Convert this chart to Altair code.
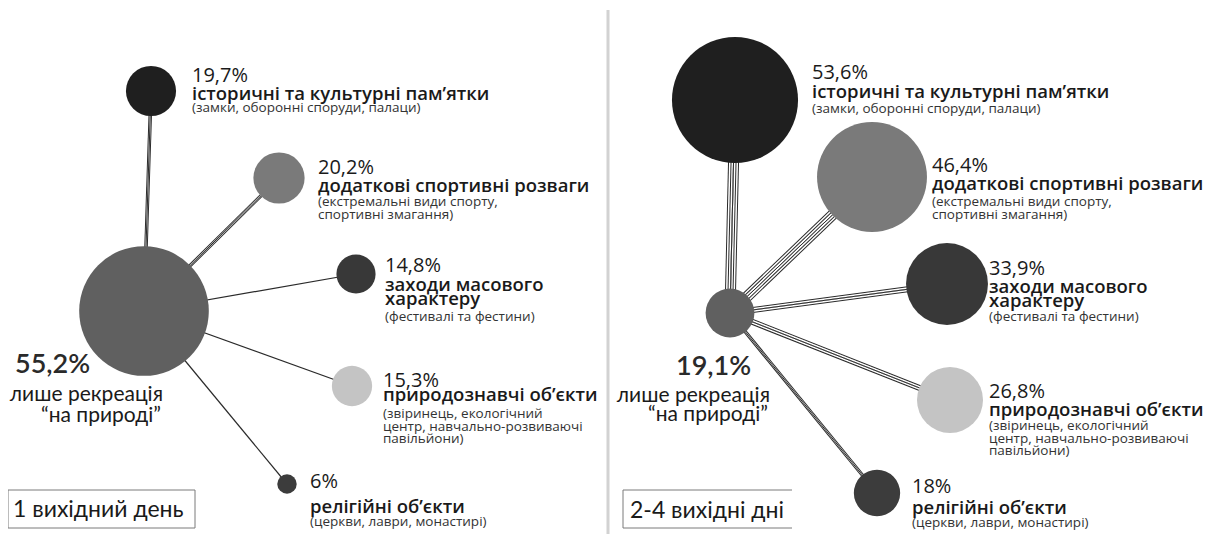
import altair as alt
import pandas as pd

# ---------------- data ----------------
panels = ["1 вихідний день", "2-4 вихідні дні"]
categories = [
    "історичні та культурні пам’ятки",
    "додаткові спортивні розваги",
    "заходи масового\nхарактеру",
    "природознавчі об’єкти",
    "релігійні об’єкти",
]
subtitles = [
    "(замки, оборонні споруди, палаци)",
    "(екстремальні види спорту,\nспортивні змагання)",
    "(фестивалі та фестини)",
    "(звіринець, екологічний\nцентр, навчально-розвиваючі\nпавільйони)",
    "(церкви, лаври, монастирі)",
]
values_1day = [19.7, 20.2, 14.8, 15.3, 6.0]
values_24days = [53.6, 46.4, 33.9, 26.8, 18.0]
center_values = [55.2, 19.1]
center_label_lines = ["лише рекреація", "“на природі”"]

# ---------------- layout (page pixels) ----------------
center_xy = [(144, 311), (730, 313)]
sat_xy = [
    [(151, 91), (279, 178), (356, 274), (352, 386), (287, 484)],
    [(735, 100), (872, 177), (947, 284), (950, 400), (877, 493)],
]
# text x, pct baseline, name baseline, subtitle baseline
sat_text = [
    [(192, 82, 100, 112), (318, 174, 192, 206), (385, 272, 291, 321),
     (383, 387, 401, 418), (310, 488, 513, 526)],
    [(812, 79, 98, 113), (932, 172, 190, 206), (989, 275, 293, 321),
     (989, 398, 416, 430), (912, 493, 514, 527)],
]
stripes = [[2, 2, 1, 1, 1], [5, 5, 3, 3, 2]]
sat_colors = ["#1f1f1f", "#7a7a7a", "#383838", "#c4c4c4", "#3c3c3c"]
center_color = "#606060"
center_text = [
    ((15, 373), (163, 401), (161, 422)),
    ((676, 375), (770, 402), (768, 421)),
]
box_text_xy = [(13, 517), (630, 518)]

all_values = [values_1day, values_24days]


def fmt(v):
    return f"{v:g}".replace(".", ",") + "%"


# ---------------- tables ----------------
edge_rows = []
node_rows = []
pct_rows, name_rows, sub_rows = [], [], []
for p in range(2):
    cx, cy = center_xy[p]
    node_rows.append(dict(x=cx, y=cy, v=center_values[p], col=center_color))
    for i in range(5):
        sx, sy = sat_xy[p][i]
        v = all_values[p][i]
        node_rows.append(dict(x=sx, y=sy, v=v, col=sat_colors[i]))
        n = stripes[p][i]
        w, g = 1.0, 1.5
        W = n * w + (n - 1) * g
        widths = []
        cur = W
        for k in range(2 * n - 1):
            widths.append(cur)
            cur -= 2 * (w if k % 2 == 0 else g)
        if n == 1:
            widths = [1.2]
        for k, sw in enumerate(widths):
            edge_rows.append(dict(x=cx, y=cy, x2=sx, y2=sy, sw=sw,
                                  col="#2a2a2a" if k % 2 == 0 else "#ffffff", k=k))
        tx, py, ny, suby = sat_text[p][i]
        pct_rows.append(dict(x=tx, y=py, t=fmt(v)))
        name_rows.append(dict(x=tx, y=ny, t=categories[i]))
        sub_rows.append(dict(x=tx, y=suby, t=subtitles[i]))

edges = pd.DataFrame(edge_rows).sort_values("k", kind="stable")
nodes = pd.DataFrame(node_rows)
nodes["sz"] = (2 * (3 + 1.12 * nodes["v"])) ** 2

cpct = pd.DataFrame([dict(x=center_text[p][0][0], y=center_text[p][0][1],
                          t=fmt(center_values[p])) for p in range(2)])
clab = pd.DataFrame([dict(x=center_text[p][j + 1][0], y=center_text[p][j + 1][1],
                          t=center_label_lines[j]) for p in range(2) for j in range(2)])
boxlab = pd.DataFrame([dict(x=box_text_xy[p][0], y=box_text_xy[p][1], t=panels[p])
                       for p in range(2)])

X = alt.X("x:Q", scale=alt.Scale(domain=[8, 1208], nice=False, zero=False), axis=None)
Y = alt.Y("y:Q", scale=alt.Scale(domain=[8, 534], nice=False, zero=False, reverse=True),
          axis=None)

sep = pd.DataFrame([dict(x=608, y=10, y2=536)])
sep_layer = alt.Chart(sep).mark_rule(color="#d2d2d2", strokeWidth=3).encode(
    x=X, y=Y, y2="y2:Q")

box_left = pd.DataFrame([dict(x=8, x2=195, y=490, y2=528)])
box_left_layer = alt.Chart(box_left).mark_rect(
    fill="#ffffff", fillOpacity=0, stroke="#7a7a7a", strokeWidth=1).encode(
    x=X, x2="x2:Q", y=Y, y2="y2:Q")

box_right = pd.DataFrame([
    dict(x=623, x2=623, y=490, y2=528),
    dict(x=623, x2=792, y=490, y2=490),
    dict(x=623, x2=792, y=528, y2=528),
])
box_right_layer = alt.Chart(box_right).mark_rule(color="#7a7a7a", strokeWidth=1).encode(
    x=X, x2="x2:Q", y=Y, y2="y2:Q")

edge_layer = alt.Chart(edges).mark_rule(strokeCap="butt").encode(
    x=X, y=Y, x2="x2:Q", y2="y2:Q",
    strokeWidth=alt.StrokeWidth("sw:Q", scale=None),
    color=alt.Color("col:N", scale=None),
)

node_layer = alt.Chart(nodes).mark_circle(opacity=1).encode(
    x=X, y=Y,
    size=alt.Size("sz:Q", scale=None),
    color=alt.Color("col:N", scale=None),
)

pct_layer = alt.Chart(pd.DataFrame(pct_rows)).mark_text(
    align="left", baseline="alphabetic", font="Open Sans", fontSize=20,
    fontWeight=500, color="#1a1a1a").encode(x=X, y=Y, text="t:N")

name_layer = alt.Chart(pd.DataFrame(name_rows)).mark_text(
    align="left", baseline="alphabetic", font="Open Sans", fontSize=18.5,
    fontWeight=600, color="#1a1a1a", lineBreak="\n", lineHeight=14).encode(
    x=X, y=Y, text="t:N")

sub_layer = alt.Chart(pd.DataFrame(sub_rows)).mark_text(
    align="left", baseline="alphabetic", font="Open Sans", fontSize=13.5,
    color="#333333", lineBreak="\n", lineHeight=12.5).encode(
    x=X, y=Y, text="t:N")

cpct_layer = alt.Chart(cpct).mark_text(
    align="left", baseline="alphabetic", font="Lato", fontSize=27,
    fontWeight=600, color="#2a2a2a").encode(x=X, y=Y, text="t:N")

clab_layer = alt.Chart(clab).mark_text(
    align="right", baseline="alphabetic", font="Lato", fontSize=21,
    color="#1a1a1a").encode(x=X, y=Y, text="t:N")

box_layer = alt.Chart(boxlab).mark_text(
    align="left", baseline="alphabetic", font="Lato", fontSize=23,
    color="#1a1a1a").encode(x=X, y=Y, text="t:N")

chart = alt.layer(
    sep_layer, box_left_layer, box_right_layer, edge_layer, node_layer,
    pct_layer, name_layer, sub_layer, cpct_layer, clab_layer, box_layer,
).properties(width=1200, height=526, padding=0, autosize="none",
             background="#ffffff").configure_view(stroke=None)

chart.save("out.html", embed_options={"renderer": "svg", "actions": False})
